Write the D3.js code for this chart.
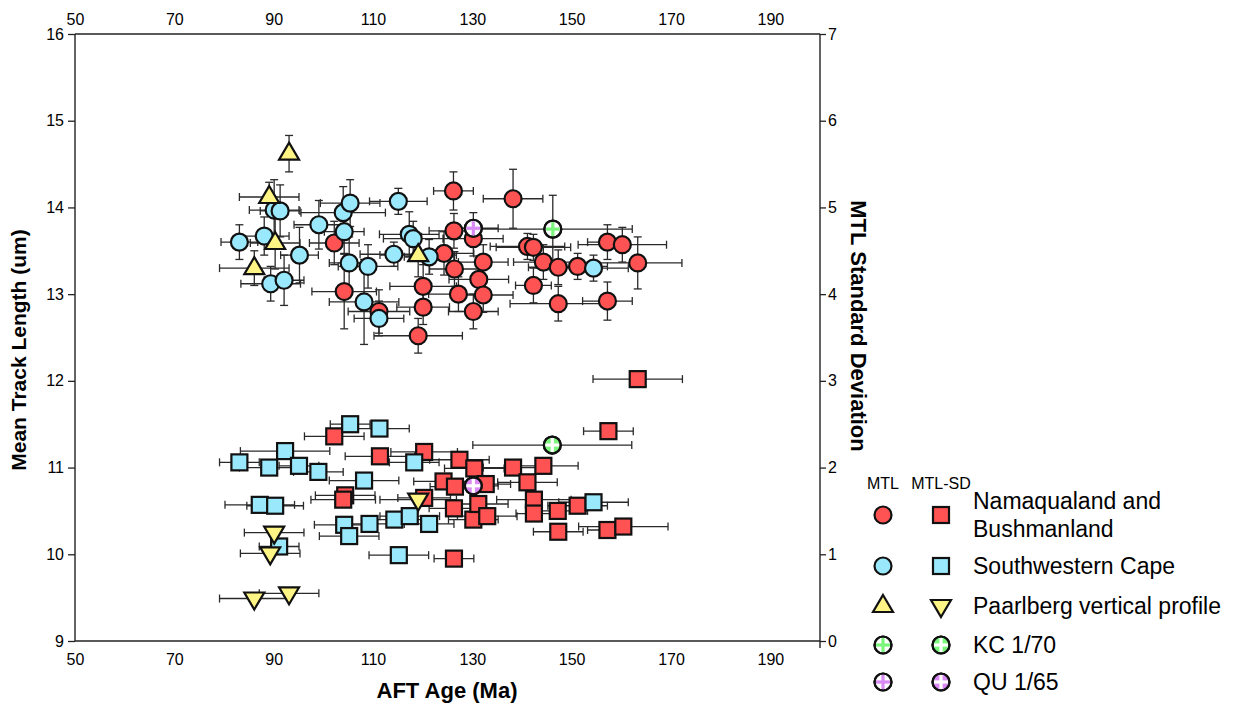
<!DOCTYPE html>
<html>
<head>
<meta charset="utf-8">
<script src="https://cdn.jsdelivr.net/npm/d3@7"></script>
<style>
  html, body { margin: 0; padding: 0; background: #fff; }
  svg { display: block; font-family: "Liberation Sans", Arial, sans-serif; }
</style>
</head>
<body>
<svg id="chart" width="1233" height="704"></svg>
<script>
// ---------------- DATA ----------------
// AFT age ticks (bottom/top) and value ticks (left/right)
const ageTicks = [50, 70, 90, 110, 130, 150, 170, 190];
const mtlTicks = [9, 10, 11, 12, 13, 14, 15, 16];
const sdTicks  = [0, 1, 2, 3, 4, 5, 6, 7];

// MTL points: [age (Ma), age error, mean track length (um), MTL error]
const namaMTL = [
  [102.2, 5.0, 13.59, 0.25], [104.2, 6.5, 13.03, 0.43], [111.2, 6.2, 12.80, 0.25],
  [119.1, 8.9, 12.52, 0.20], [120.1, 6.7, 13.09, 0.25], [120.1, 5.3, 12.85, 0.20],
  [124.3, 6.0, 13.47, 0.25], [126.2, 4.0, 14.19, 0.22], [126.3, 5.0, 13.73, 0.20],
  [126.4, 5.0, 13.29, 0.20], [127.2, 6.0, 13.00, 0.20], [130.2, 6.0, 13.64, 0.20],
  [130.2, 5.0, 12.80, 0.20], [131.3, 6.0, 13.17, 0.20], [132.2, 5.0, 13.37, 0.20],
  [132.2, 6.0, 12.99, 0.20], [138.2, 6.0, 14.10, 0.34], [141.1, 7.5, 13.55, 0.15],
  [142.3, 7.5, 13.54, 0.15], [142.3, 3.6, 13.10, 0.20], [144.3, 6.0, 13.37, 0.20],
  [147.3, 6.0, 13.31, 0.20], [147.3, 9.7, 12.89, 0.20], [151.2, 6.0, 13.32, 0.15],
  [157.2, 4.0, 13.60, 0.20], [160.2, 8.9, 13.57, 0.20], [157.2, 5.0, 12.92, 0.22],
  [163.3, 8.9, 13.36, 0.30]
];
const swcMTL = [
  [83.1, 3.7, 13.60, 0.20], [88.1, 5.0, 13.67, 0.22], [89.4, 6.0, 13.12, 0.20],
  [90.1, 5.0, 13.97, 0.35], [91.3, 4.0, 13.96, 0.30], [92.1, 4.0, 13.16, 0.29],
  [95.2, 3.8, 13.45, 0.32], [99.1, 5.0, 13.80, 0.28], [104.0, 8.5, 13.94, 0.30],
  [104.2, 4.0, 13.72, 0.25], [105.2, 4.0, 13.36, 0.30], [105.4, 6.0, 14.05, 0.27],
  [108.2, 7.0, 12.91, 0.49], [109.0, 6.0, 13.32, 0.25], [111.2, 5.0, 12.72, 0.20],
  [114.2, 6.8, 13.46, 0.14], [115.1, 5.8, 14.07, 0.15], [117.3, 6.0, 13.69, 0.26],
  [118.1, 6.0, 13.64, 0.20], [121.3, 5.0, 13.43, 0.20], [154.4, 7.0, 13.30, 0.15]
];
const paarMTL = [
  [93.1, 0.0, 14.62, 0.21], [89.1, 6.0, 14.12, 0.17], [90.3, 5.0, 13.59, 0.30],
  [86.1, 7.0, 13.30, 0.20], [119.1, 7.7, 13.45, 0.25]
];
const kcMTL = [[146.2, 16.0, 13.75, 0.39]];
const quMTL = [[130.2, 5.0, 13.76, 0.18]];

// MTL-SD points: [age (Ma), age error, MTL standard deviation]
const namaSD = [
  [102.2, 6.0, 2.36], [104.4, 6.0, 1.68], [104.0, 6.5, 1.63], [111.4, 7.0, 2.13],
  [120.3, 6.7, 2.18], [120.3, 5.3, 1.65], [124.2, 6.0, 1.84], [126.3, 4.0, 0.95],
  [126.5, 5.0, 1.78], [126.3, 5.0, 1.53], [127.4, 6.0, 2.09], [130.4, 6.0, 1.99],
  [130.2, 5.0, 1.40], [131.2, 6.0, 1.58], [132.7, 5.0, 1.81], [133.0, 6.0, 1.44],
  [138.2, 6.0, 2.00], [141.1, 6.0, 1.83], [142.4, 7.5, 1.63], [142.4, 3.6, 1.47],
  [144.3, 7.0, 2.02], [147.2, 6.0, 1.50], [147.3, 5.0, 1.26], [151.2, 6.0, 1.56],
  [157.4, 5.0, 2.42], [157.2, 4.0, 1.28], [160.4, 9.0, 1.32], [163.3, 9.0, 3.02]
];
const swcSD = [
  [83.1, 4.0, 2.06], [87.2, 7.0, 1.57], [89.1, 6.0, 2.00], [90.3, 5.7, 1.56],
  [91.1, 4.0, 1.09], [92.3, 9.0, 2.19], [95.1, 4.0, 2.02], [99.0, 5.0, 1.95],
  [104.2, 6.0, 1.34], [105.2, 6.0, 1.21], [105.4, 4.0, 2.50], [108.2, 7.0, 1.85],
  [109.3, 6.0, 1.35], [111.3, 6.0, 2.45], [114.3, 6.0, 1.40], [115.2, 6.0, 0.99],
  [117.4, 6.0, 1.44], [118.3, 5.0, 2.06], [121.3, 5.0, 1.35], [154.4, 7.0, 1.60]
];
const paarSD = [
  [119.1, 7.7, 1.63], [90.1, 6.0, 1.25], [89.3, 6.0, 1.01], [86.1, 7.0, 0.49], [93.1, 6.0, 0.55]
];
const kcSD = [[146.1, 16.0, 2.26]];
const quSD = [[130.2, 5.0, 1.79]];

const legendNames = [["Namaqualand and", "Bushmanland"], ["Southwestern Cape"], ["Paarlberg vertical profile"], ["KC 1/70"], ["QU 1/65"]];
const legendHeaders = ["MTL", "MTL-SD"];

// ---------------- SETUP ----------------
const svg = d3.select("#chart");
const M = { left: 75, right: 820, top: 34, bottom: 641 };

const x = d3.scaleLinear().domain([50, 200]).range([M.left, M.right]);
const yL = d3.scaleLinear().domain([9, 16]).range([M.bottom, M.top]);
const yR = d3.scaleLinear().domain([0, 7]).range([M.bottom, M.top]);

const C = {
  red: "#ff5252", cyan: "#99e8fb", yellow: "#fff585",
  green: "#7cf57c", purple: "#d98af5"
};

// ---------------- AXES ----------------
const tickFont = "16px";
const axBottom = svg.append("g").attr("transform", `translate(0,${M.bottom})`)
  .call(d3.axisBottom(x).tickValues(ageTicks).tickSize(0).tickPadding(13).tickFormat(d3.format("d")));
const axTop = svg.append("g").attr("transform", `translate(0,${M.top})`)
  .call(d3.axisTop(x).tickValues(ageTicks).tickSize(0).tickPadding(9).tickFormat(d3.format("d")));
const axLeft = svg.append("g").attr("transform", `translate(${M.left},0)`)
  .call(d3.axisLeft(yL).tickValues(mtlTicks).tickSize(7).tickPadding(4).tickFormat(d3.format("d")));
const axRight = svg.append("g").attr("transform", `translate(${M.right},0)`)
  .call(d3.axisRight(yR).tickValues(sdTicks).tickSize(6).tickPadding(2).tickFormat(d3.format("d")));

[axBottom, axTop, axLeft, axRight].forEach(g => {
  g.select(".domain").remove();
  g.selectAll("text").attr("font-size", tickFont).attr("fill", "#000")
    .attr("font-family", "'Liberation Sans', Arial, sans-serif");
  g.selectAll("line").attr("stroke", "#222").attr("stroke-width", 1.3);
});

// frame lines
const frame = svg.append("g").attr("stroke", "#222").attr("stroke-width", 1.4).attr("fill", "none");
frame.append("line").attr("x1", M.left).attr("x2", M.right).attr("y1", M.top).attr("y2", M.top);
frame.append("line").attr("x1", M.left).attr("x2", M.right).attr("y1", M.bottom).attr("y2", M.bottom);
frame.append("line").attr("x1", M.left).attr("x2", M.left).attr("y1", M.top).attr("y2", M.bottom);
frame.append("line").attr("x1", M.right).attr("x2", M.right).attr("y1", M.top).attr("y2", M.bottom + 7);

// axis titles
svg.append("text").attr("x", 447).attr("y", 698).attr("text-anchor", "middle")
  .attr("font-size", "22px").attr("font-weight", "bold").text("AFT Age (Ma)");
svg.append("text").attr("transform", "translate(26,350) rotate(-90)").attr("text-anchor", "middle")
  .attr("font-size", "21px").attr("font-weight", "bold").text("Mean Track Length (um)");
svg.append("text").attr("transform", "translate(851,326) rotate(90)").attr("text-anchor", "middle")
  .attr("font-size", "22px").attr("font-weight", "bold").text("MTL Standard Deviation");

// ---------------- MARKERS ----------------
function drawMarker(g, shape, fill, cx, cy) {
  const sw = 2.2;
  if (shape === "circle" || shape === "plusMTL" || shape === "plusSD") {
    g.append("circle").attr("cx", cx).attr("cy", cy).attr("r", 8.5)
      .attr("fill", shape === "plusMTL" ? "#ffffff" : fill).attr("stroke", "#111").attr("stroke-width", sw);
    if (shape !== "circle") {
      const pc = shape === "plusMTL" ? fill : "#ffffff";
      g.append("line").attr("x1", cx - 7).attr("x2", cx + 7).attr("y1", cy).attr("y2", cy)
        .attr("stroke", pc).attr("stroke-width", 3.2);
      g.append("line").attr("x1", cx).attr("x2", cx).attr("y1", cy - 7).attr("y2", cy + 7)
        .attr("stroke", pc).attr("stroke-width", 3.2);
      g.append("circle").attr("cx", cx).attr("cy", cy).attr("r", 8.5)
        .attr("fill", "none").attr("stroke", "#111").attr("stroke-width", sw);
    }
  } else if (shape === "square") {
    g.append("rect").attr("x", cx - 8).attr("y", cy - 8).attr("width", 16).attr("height", 16)
      .attr("fill", fill).attr("stroke", "#111").attr("stroke-width", sw);
  } else if (shape === "triUp") {
    const p = [[cx, cy - 11], [cx + 10, cy + 6], [cx - 10, cy + 6]];
    g.append("path").attr("d", "M" + p.join("L") + "Z")
      .attr("fill", fill).attr("stroke", "#111").attr("stroke-width", sw).attr("stroke-linejoin", "miter");
  } else if (shape === "triDown") {
    const p = [[cx, cy + 11], [cx + 10, cy - 6], [cx - 10, cy - 6]];
    g.append("path").attr("d", "M" + p.join("L") + "Z")
      .attr("fill", fill).attr("stroke", "#111").attr("stroke-width", sw).attr("stroke-linejoin", "miter");
  }
}

const errG = svg.append("g").attr("stroke", "#2a2a2a").attr("stroke-width", 1.3).attr("fill", "none");
const markG = svg.append("g");
const cap = 4;

function hErr(age, ae, py) {
  if (ae <= 0) return;
  const x0 = x(age - ae), x1 = x(age + ae);
  errG.append("line").attr("x1", x0).attr("x2", x1).attr("y1", py).attr("y2", py);
  errG.append("line").attr("x1", x0).attr("x2", x0).attr("y1", py - cap).attr("y2", py + cap);
  errG.append("line").attr("x1", x1).attr("x2", x1).attr("y1", py - cap).attr("y2", py + cap);
}
function vErr(px, v, ve) {
  if (ve <= 0) return;
  const y0 = yL(v - ve), y1 = yL(v + ve);
  errG.append("line").attr("x1", px).attr("x2", px).attr("y1", y0).attr("y2", y1);
  errG.append("line").attr("x1", px - cap).attr("x2", px + cap).attr("y1", y0).attr("y2", y0);
  errG.append("line").attr("x1", px - cap).attr("x2", px + cap).attr("y1", y1).attr("y2", y1);
}

const mtlSets = [
  [namaMTL, "circle", C.red], [swcMTL, "circle", C.cyan], [paarMTL, "triUp", C.yellow],
  [kcMTL, "plusMTL", C.green], [quMTL, "plusMTL", C.purple]
];
const sdSets = [
  [namaSD, "square", C.red], [swcSD, "square", C.cyan], [paarSD, "triDown", C.yellow],
  [kcSD, "plusSD", C.green], [quSD, "plusSD", C.purple]
];

mtlSets.forEach(([data]) => data.forEach(d => {
  hErr(d[0], d[1], yL(d[2]));
  vErr(x(d[0]), d[2], d[3]);
}));
sdSets.forEach(([data]) => data.forEach(d => hErr(d[0], d[1], yR(d[2]))));

mtlSets.forEach(([data, shape, fill]) => data.forEach(d => drawMarker(markG, shape, fill, x(d[0]), yL(d[2]))));
sdSets.forEach(([data, shape, fill]) => data.forEach(d => drawMarker(markG, shape, fill, x(d[0]), yR(d[2]))));

// ---------------- LEGEND ----------------
const leg = svg.append("g");
leg.append("text").attr("x", 883).attr("y", 489).attr("text-anchor", "middle").attr("font-size", "16px").text(legendHeaders[0]);
leg.append("text").attr("x", 941).attr("y", 489).attr("text-anchor", "middle").attr("font-size", "16px").text(legendHeaders[1]);
const rowsY = [515, 566, 606, 645, 682];
const legShapes = [["circle", "square", C.red], ["circle", "square", C.cyan], ["triUp", "triDown", C.yellow],
  ["plusMTL", "plusSD", C.green], ["plusMTL", "plusSD", C.purple]];
legShapes.forEach((s, i) => {
  drawMarker(leg, s[0], s[2], 883, rowsY[i]);
  drawMarker(leg, s[1], s[2], 941, rowsY[i]);
  const names = legendNames[i];
  if (names.length === 2) {
    leg.append("text").attr("x", 973).attr("y", rowsY[i] - 6).attr("font-size", "23px").text(names[0]);
    leg.append("text").attr("x", 973).attr("y", rowsY[i] + 22).attr("font-size", "23px").text(names[1]);
  } else {
    leg.append("text").attr("x", 973).attr("y", rowsY[i] + 8).attr("font-size", "23px").text(names[0]);
  }
});
</script>
</body>
</html>
